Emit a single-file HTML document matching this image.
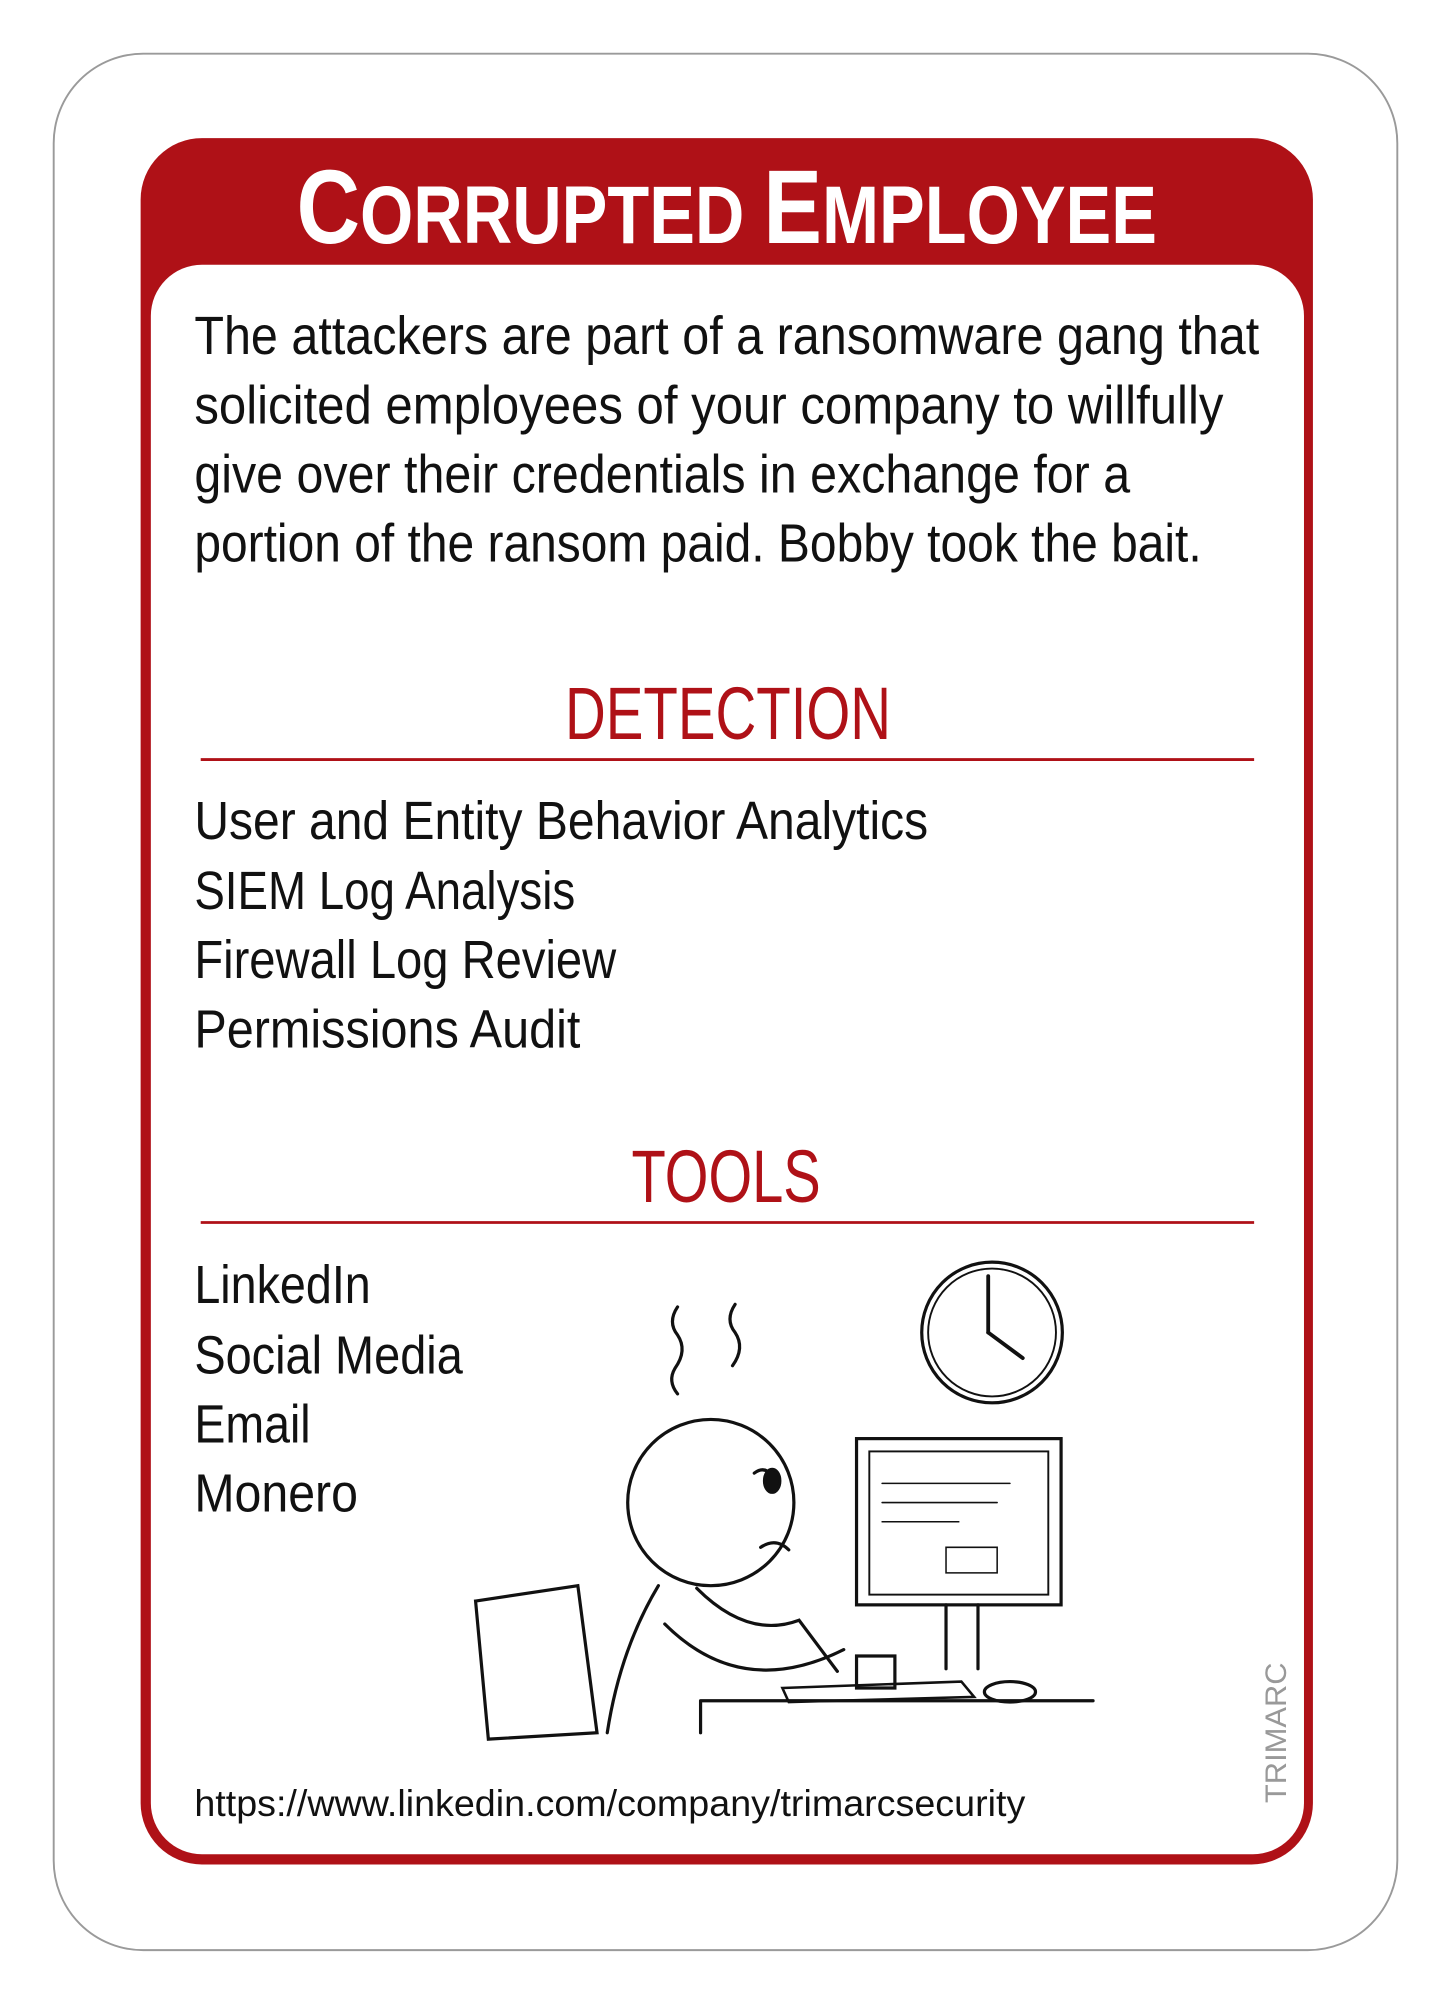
<!DOCTYPE html>
<html><head><meta charset="utf-8"><style>
html,body{margin:0;padding:0;background:#fff;width:1451px;height:2000px;overflow:hidden}
svg{display:block}
text{font-family:"Liberation Sans",sans-serif}
</style></head><body>
<svg width="1451" height="2000" viewBox="0 0 1135 1564" preserveAspectRatio="none">
<rect x="42" y="42" width="1051" height="1483" rx="70" fill="#fff" stroke="#9a9a9a" stroke-width="1.5"/>
<rect x="110" y="108" width="917" height="1350" rx="48" fill="#af1117"/>
<rect x="118" y="207" width="902" height="1243" rx="40" fill="#fff"/>
<text x="232" y="190" textLength="673" lengthAdjust="spacingAndGlyphs" fill="#fff" font-weight="bold" font-size="64"><tspan font-size="82">C</tspan>ORRUPTED <tspan font-size="82">E</tspan>MPLOYEE</text>
<g fill="#111" font-size="42">
<text x="152" y="277" textLength="833" lengthAdjust="spacingAndGlyphs">The attackers are part of a ransomware gang that</text>
<text x="152" y="331" textLength="805" lengthAdjust="spacingAndGlyphs">solicited employees of your company to willfully</text>
<text x="152" y="385" textLength="732" lengthAdjust="spacingAndGlyphs">give over their credentials in exchange for a</text>
<text x="152" y="439" textLength="788" lengthAdjust="spacingAndGlyphs">portion of the ransom paid. Bobby took the bait.</text>
</g>
<text x="442" y="578" textLength="255" lengthAdjust="spacingAndGlyphs" font-size="58" fill="#af1117">DETECTION</text>
<line x1="157" y1="594" x2="981" y2="594" stroke="#af1117" stroke-width="2.2"/>
<g fill="#111" font-size="42">
<text x="152" y="656" textLength="574" lengthAdjust="spacingAndGlyphs">User and Entity Behavior Analytics</text>
<text x="152" y="711" textLength="298" lengthAdjust="spacingAndGlyphs">SIEM Log Analysis</text>
<text x="152" y="765" textLength="330" lengthAdjust="spacingAndGlyphs">Firewall Log Review</text>
<text x="152" y="819" textLength="302" lengthAdjust="spacingAndGlyphs">Permissions Audit</text>
</g>
<text x="494" y="940" textLength="148" lengthAdjust="spacingAndGlyphs" font-size="58" fill="#af1117">TOOLS</text>
<line x1="157" y1="956" x2="981" y2="956" stroke="#af1117" stroke-width="2.2"/>
<g fill="#111" font-size="42">
<text x="152" y="1019" textLength="138" lengthAdjust="spacingAndGlyphs">LinkedIn</text>
<text x="152" y="1074" textLength="210" lengthAdjust="spacingAndGlyphs">Social Media</text>
<text x="152" y="1128" textLength="91" lengthAdjust="spacingAndGlyphs">Email</text>
<text x="152" y="1182" textLength="128" lengthAdjust="spacingAndGlyphs">Monero</text>
</g>
<g fill="none" stroke="#111" stroke-width="2.5" stroke-linecap="round">
<g>
<circle cx="776" cy="1042" r="55"/>
<circle cx="776" cy="1042" r="50" stroke-width="1.5"/>
<line x1="773" y1="1042" x2="773" y2="998" stroke-width="3"/>
<line x1="773" y1="1042" x2="800" y2="1062" stroke-width="3"/>
</g>
<path d="M530 1022 q-8 12 0 22 q8 12 -2 26 q-6 10 2 20"/>
<path d="M575 1020 q-8 12 0 22 q8 12 -2 26"/>
<circle cx="556" cy="1175" r="65"/>
<path d="M590 1152 q8 -6 14 2"/>
<ellipse cx="604" cy="1158" rx="6" ry="9" fill="#111"/>
<path d="M595 1210 q12 -8 22 2"/>
<path d="M515 1240 q-30 50 -40 115"/>
<path d="M545 1242 q40 40 80 25 q15 20 30 40"/>
<path d="M520 1270 q60 60 140 20"/>
<path d="M372 1252 l80 -12 l15 115 l-85 5 z"/>
<rect x="670" y="1125" width="160" height="130"/>
<rect x="680" y="1135" width="140" height="112" stroke-width="1.5"/>
<path d="M690 1160 h100 M690 1175 h90 M690 1190 h60 M740 1210 h40 v20 h-40 z" stroke-width="1.2"/>
<path d="M740 1255 v50 M765 1255 v50"/>
<path d="M548 1330 h307 M548 1330 v25"/>
<path d="M612 1320 l140 -5 l10 12 l-145 4 z" stroke-width="2"/>
<path d="M670 1295 h30 v25 h-30 z"/>
<ellipse cx="790" cy="1323" rx="20" ry="8"/>
</g>
<text x="152" y="1420" textLength="650" lengthAdjust="spacingAndGlyphs" font-size="29" fill="#111">https://www.linkedin.com/company/trimarcsecurity</text>
<text transform="translate(1006,1410) rotate(-90)" textLength="110" lengthAdjust="spacingAndGlyphs" font-size="23" fill="#999">TRIMARC</text>
</svg>
</body></html>
